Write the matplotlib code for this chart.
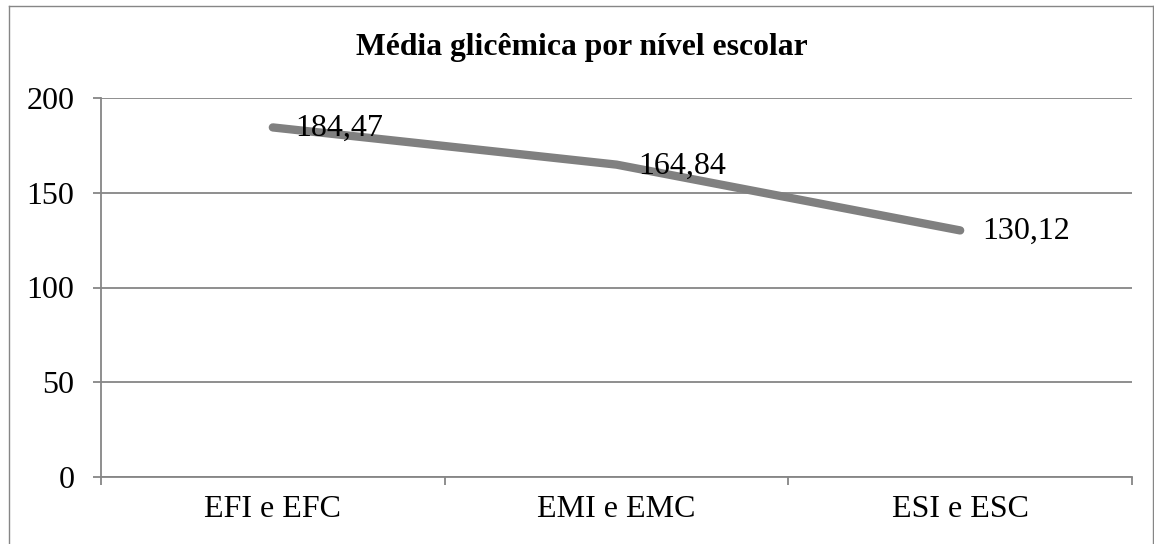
import matplotlib
matplotlib.use("Agg")
import matplotlib.pyplot as plt
from matplotlib.lines import Line2D

categorias = ["EFI e EFC", "EMI e EMC", "ESI e ESC"]
media_glicemica = [184.47, 164.84, 130.12]
rotulos = ["184,47", "164,84", "130,12"]
yticks = [0, 50, 100, 150, 200]

plt.rcParams['font.family'] = ['Liberation Serif', 'DejaVu Serif']

W, H = 1154, 544
fig = plt.figure(figsize=(W / 100, H / 100), dpi=100)
ax = fig.add_axes([101 / W, 67 / H, (1132 - 101) / W, 379 / H])

cinza = "#868686"
fs = 23
xs = [i + 0.5 for i in range(len(categorias))]
ax.plot(xs, media_glicemica, color="#808080", lw=6, solid_capstyle="round",
        solid_joinstyle="round", zorder=3)
for x, v, r in zip(xs, media_glicemica, rotulos):
    ax.annotate(r, (x, v), xytext=(16, -1), textcoords="offset points",
                ha="left", va="center", fontsize=fs, color="black", zorder=4)

ax.set_xlim(0, len(categorias))
ax.set_ylim(0, 200)
ax.set_yticks(yticks)
ax.set_yticklabels([str(t) for t in yticks])
ax.set_xticks(range(len(categorias) + 1))
ax.set_xticklabels([])
ax.set_xticks(xs, minor=True)
ax.set_xticklabels(categorias, minor=True)
ax.tick_params(axis="x", which="minor", length=0, pad=13, labelsize=fs)
ax.tick_params(axis="x", which="major", length=6, width=1.3, color=cinza)
ax.tick_params(axis="y", length=6, width=1.3, color=cinza, pad=13, labelsize=fs)

ax.grid(axis="y", color=cinza, lw=1.3)
ax.set_axisbelow(True)
for s in ["top", "right"]:
    ax.spines[s].set_visible(False)
for s in ["left", "bottom"]:
    ax.spines[s].set_color(cinza)
    ax.spines[s].set_linewidth(1.3)

fig.text(0.504, 1 - 55 / H, "Média glicêmica por nível escolar", ha="center",
         va="baseline", fontsize=22.8, fontweight="bold")

# moldura do gráfico
bx0, bx1, by0, by1 = 8.5 / W, 1153 / W, -0.01, 1 - 5.5 / H
for xd, yd in [([bx0, bx1], [by1, by1]), ([bx0, bx0], [by0, by1]), ([bx1, bx1], [by0, by1])]:
    fig.add_artist(Line2D(xd, yd, color=cinza, lw=1.0, transform=fig.transFigure))

fig.savefig("out.png", dpi=100)
